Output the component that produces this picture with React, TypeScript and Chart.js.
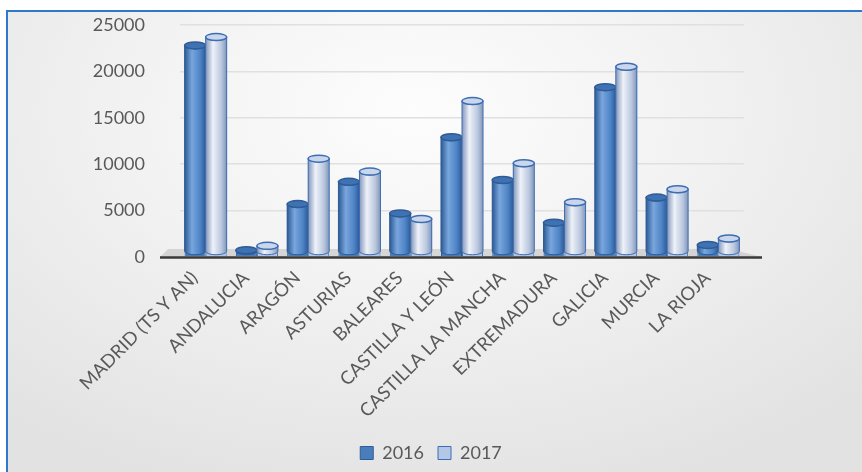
import React, { useEffect, useRef } from "react";
import { Chart, registerables } from "chart.js";
Chart.register(...registerables);

const categories = [
  "MADRID (TS Y AN)",
  "ANDALUCIA",
  "ARAGÓN",
  "ASTURIAS",
  "BALEARES",
  "CASTILLA Y LEÓN",
  "CASTILLA LA MANCHA",
  "EXTREMADURA",
  "GALICIA",
  "MURCIA",
  "LA RIOJA",
];
const seriesNames = ["2016", "2017"];
const values2016 = [22800, 600, 5700, 8100, 4700, 12900, 8300, 3700, 18300, 6400, 1300];
const values2017 = [23700, 1200, 10600, 9200, 4100, 16800, 10100, 5900, 20500, 7300, 2000];
const yMin = 0;
const yMax = 25000;
const yStep = 5000;

const palettes = [
  { fill: "#4a7ebb", dark: "#2c5a96", light: "#79a6dc", mid: "#4d83c6", cap: "#3f72b3", stroke: "#2f5b96" },
  { fill: "#b4c7e7", dark: "#8396ba", light: "#eef2f9", mid: "#b9c7de", cap: "#c9d6ec", stroke: "#3d6eb2" },
];

const FONT = "Lato, 'Open Sans', sans-serif";
const TEXT = "#595959";

const cylinderPlugin = {
  id: "cylinders",
  beforeDatasetsDraw(chart: any) {
    const ctx = chart.ctx;
    const { left, right, bottom } = chart.chartArea;
    ctx.save();
    ctx.beginPath();
    ctx.moveTo(left - 12, bottom - 8);
    ctx.lineTo(right - 14, bottom - 8);
    ctx.lineTo(right + 18, bottom);
    ctx.lineTo(left - 20, bottom);
    ctx.closePath();
    ctx.fillStyle = "rgba(190,190,190,0.55)";
    ctx.fill();
    ctx.restore();
  },
  afterDatasetsDraw(chart: any) {
    const ctx = chart.ctx;
    chart.data.datasets.forEach((_ds: any, di: number) => {
      const meta = chart.getDatasetMeta(di);
      const pal = palettes[di];
      meta.data.forEach((bar: any) => {
        const { x, y, base, width } = bar.getProps(["x", "y", "base", "width"], true);
        const rx = width / 2;
        const l = x - rx;
        const r = x + rx;
        const ry = 3.5;
        const bot = base - 5;
        const top = Math.min(y, bot - 1);
        ctx.save();
        const g = ctx.createLinearGradient(l, 0, r, 0);
        g.addColorStop(0, pal.dark);
        g.addColorStop(0.35, pal.light);
        g.addColorStop(0.75, pal.mid);
        g.addColorStop(1, pal.dark);
        ctx.beginPath();
        ctx.moveTo(l, top);
        ctx.lineTo(l, bot);
        ctx.ellipse(x, bot, rx, ry, 0, Math.PI, 0, true);
        ctx.lineTo(r, top);
        ctx.ellipse(x, top, rx, ry, 0, 0, Math.PI, false);
        ctx.closePath();
        ctx.fillStyle = g;
        ctx.fill();
        ctx.lineWidth = 1;
        ctx.strokeStyle = pal.stroke;
        ctx.stroke();
        ctx.beginPath();
        ctx.ellipse(x, top, rx, ry, 0, 0, Math.PI * 2);
        ctx.fillStyle = pal.cap;
        ctx.fill();
        ctx.lineWidth = 1.5;
        ctx.strokeStyle = pal.stroke;
        ctx.stroke();
        ctx.restore();
      });
    });
    const { left, right, bottom } = chart.chartArea;
    ctx.save();
    ctx.beginPath();
    ctx.moveTo(left - 20, bottom + 0.5);
    ctx.lineTo(right + 18, bottom + 0.5);
    ctx.lineWidth = 2.5;
    ctx.strokeStyle = "#3a3a3a";
    ctx.stroke();
    ctx.restore();
  },
};

export default function App() {
  const ref = useRef<HTMLCanvasElement | null>(null);
  useEffect(() => {
    let chart: Chart | null = null;
    let cancelled = false;
    const make = () => {
      if (cancelled || !ref.current) return;
      chart = new Chart(ref.current, {
        type: "bar",
        data: {
          labels: categories,
          datasets: [
            {
              label: seriesNames[0],
              data: values2016,
              backgroundColor: palettes[0].fill,
              borderColor: palettes[0].stroke,
              borderWidth: 1,
              categoryPercentage: 0.82,
              barPercentage: 1.0,
            },
            {
              label: seriesNames[1],
              data: values2017,
              backgroundColor: palettes[1].fill,
              borderColor: palettes[1].stroke,
              borderWidth: 1,
              categoryPercentage: 0.82,
              barPercentage: 1.0,
            },
          ],
        },
        options: {
          responsive: false,
          animation: false,
          layout: { padding: { top: 25, right: 0, bottom: 0, left: 0 } },
          plugins: {
            legend: {
              position: "bottom",
              labels: {
                font: { family: FONT, size: 18 },
                color: TEXT,
                boxWidth: 13,
                boxHeight: 13,
                padding: 14,
              },
            },
            tooltip: { enabled: false },
          },
          scales: {
            x: {
              grid: { display: false },
              border: { display: false },
              ticks: {
                autoSkip: false,
                maxRotation: 45,
                minRotation: 45,
                font: { family: FONT, size: 18.5 },
                color: TEXT,
                padding: 2,
                labelOffset: -11,
              },
              afterFit: (s: any) => {
                s.height = 173;
              },
            },
            y: {
              min: yMin,
              max: yMax,
              ticks: {
                stepSize: yStep,
                font: { family: FONT, size: 18 },
                color: TEXT,
                padding: 8,
                callback: (v: any) => String(v),
              },
              grid: {
                color: "#e0e0e0",
                lineWidth: 1.5,
                drawTicks: true,
                tickLength: 27,
                tickColor: "rgba(0,0,0,0)",
              },
              border: { display: false },
              afterFit: (s: any) => {
                s.width = 180;
              },
            },
            yRight: {
              position: "right",
              min: yMin,
              max: yMax,
              ticks: { display: false },
              grid: { display: false },
              border: { display: false },
              afterFit: (s: any) => {
                s.width = 118;
              },
            },
          },
        },
        plugins: [cylinderPlugin],
      });
    };
    const fonts: any = (document as any).fonts;
    if (fonts && fonts.load) {
      Promise.all([fonts.load("16px Lato"), fonts.load("18px Lato")]).then(make, make);
    } else make();
    return () => {
      cancelled = true;
      if (chart) chart.destroy();
    };
  }, []);

  return (
    <div style={{ position: "fixed", inset: 0, overflow: "hidden", background: "#ffffff" }}>
      <div
        style={{
          position: "absolute",
          left: 6,
          top: 10,
          width: 900,
          height: 500,
          border: "2px solid #2f78cc",
          background:
            "radial-gradient(ellipse 70% 80% at 45% 20%, #fdfdfd 0%, #f2f2f2 45%, #e2e2e2 100%)",
        }}
      />
      <canvas
        ref={ref}
        width={862}
        height={472}
        style={{ position: "absolute", left: 0, top: 0, width: 862, height: 472, display: "block" }}
      />
    </div>
  );
}
